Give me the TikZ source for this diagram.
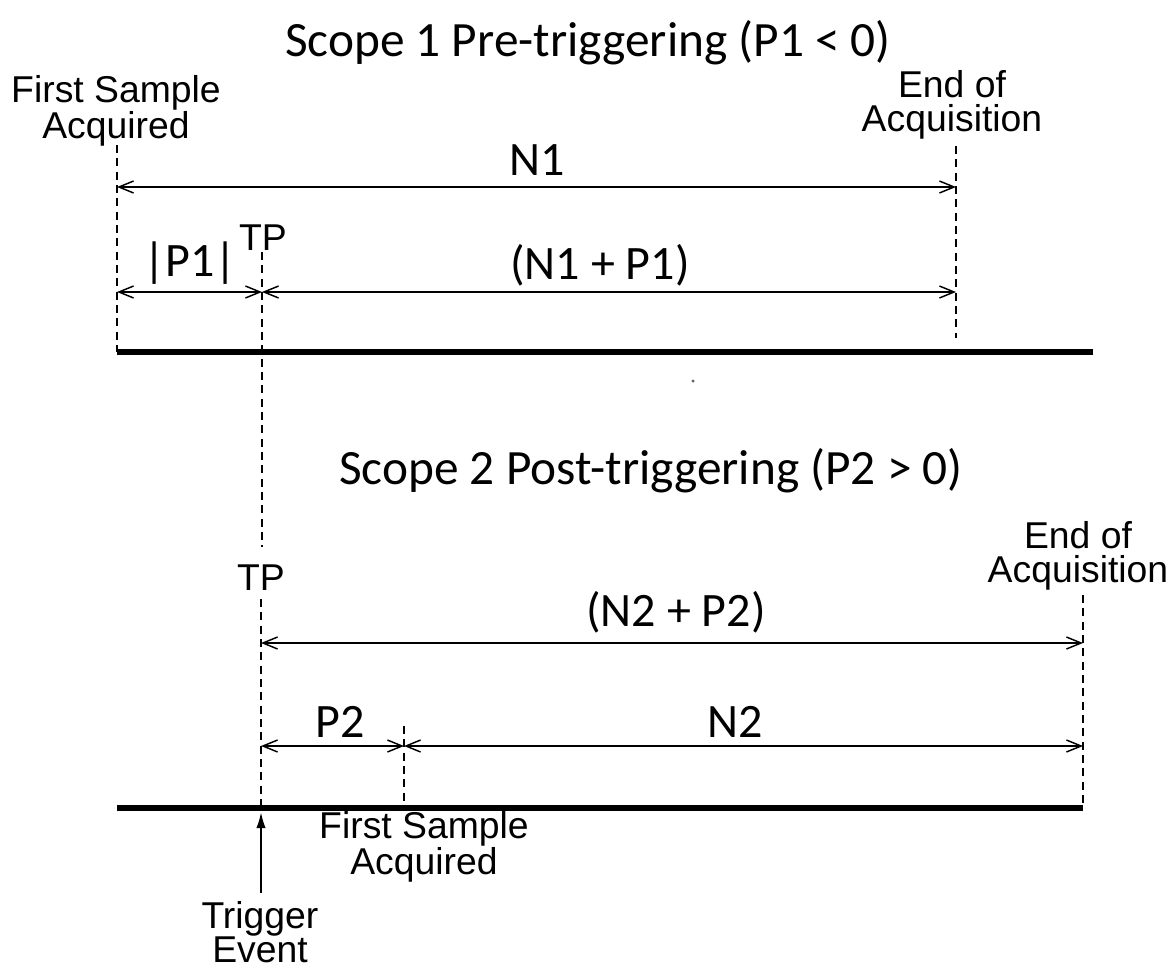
\documentclass[tikz,border=0pt]{standalone}
\usepackage{fontspec}
\setmainfont{Carlito}
\newfontfamily\arialfont{Liberation Sans}
\usetikzlibrary{arrows.meta}
\tikzset{
  ttl/.style={font=\fontsize{37}{44}\selectfont, inner sep=0pt},
  lbl/.style={font=\fontsize{36}{42}\selectfont, inner sep=0pt},
  anno/.style={font=\arialfont\fontsize{28}{26}\selectfont, align=center, inner sep=0pt},
  guide/.style={line width=1.4pt, dash pattern=on 6pt off 4pt},
  dimline/.style={line width=1.1pt, {Straight Barb[length=11pt,width=9pt]}-{Straight Barb[length=11pt,width=9pt]}},
  axisline/.style={line width=4.6pt, line cap=butt},
  trig/.style={line width=1.5pt, -{Latex[length=12pt,width=7pt]}}
}
\begin{document}
\begin{tikzpicture}[x=0.75pt,y=-0.75pt]
\useasboundingbox (0,0) rectangle (1173,978);

% ---------- Scope 1 ----------
\node[ttl] (t1) at (588,43) {Scope 1 Pre-triggering (P1 < 0)};
\node[anno] (fs1) at (116,111) {First Sample\\Acquired};
\node[anno] (ea1) at (952,105) {End of\\Acquisition};
\node[anno] (tp1) at (263,238) {TP};
\node[lbl] (n1) at (537,160) {N1};
\node[lbl] (p1) at (190,263) {|P1|};
\node[lbl] (n1p1) at (600,265) {(N1 + P1)};

\coordinate (fsTop) at (117,145);
\coordinate (fsBot) at (117,352);
\coordinate (eTop) at (956,146);
\coordinate (eBot) at (956,338);
\coordinate (tpTop) at (262,252);
\coordinate (tpMid) at (262,547);
\coordinate (ax1L) at (117,352);
\coordinate (ax1R) at (1093,352);

\draw[guide] (fsTop) -- (fsBot);
\draw[guide] (eTop) -- (eBot);
\draw[guide] (tpTop) -- (tpMid);

\draw[dimline] (117,187) coordinate (n1L) -- (956,187) coordinate (n1R);
\draw[dimline] (117,292) coordinate (p1L) -- (262,292) coordinate (p1R);
\draw[dimline] (262,292) coordinate (np1L) -- (956,292) coordinate (np1R);

\draw[axisline] (ax1L) -- (ax1R);

\fill[black!60] (693,381) circle (1.3pt);

% ---------- Scope 2 ----------
\node[ttl] (t2) at (651,471) {Scope 2 Post-triggering (P2 > 0)};
\node[anno] (tp2) at (261,578) {TP};
\node[anno] (ea2) at (1078,556) {End of\\Acquisition};
\node[lbl] (n2p2) at (676,612) {(N2 + P2)};
\node[lbl] (p2) at (340,722) {P2};
\node[lbl] (n2) at (735,722) {N2};
\node[anno] (fs2) at (424,847) {First Sample\\Acquired};
\node[anno] (te) at (260,932) {Trigger\\Event};

\coordinate (tp2Top) at (261,599);
\coordinate (tp2Bot) at (261,808);
\coordinate (e2Top) at (1083,595);
\coordinate (e2Bot) at (1083,808);
\coordinate (fs2Top) at (404,726);
\coordinate (fs2Bot) at (404,808);
\coordinate (ax2L) at (117,808);
\coordinate (ax2R) at (1083,808);

\draw[guide] (tp2Top) -- (tp2Bot);
\draw[guide] (e2Top) -- (e2Bot);
\draw[guide] (fs2Top) -- (fs2Bot);

\draw[dimline] (261,643) coordinate (np2L) -- (1083,643) coordinate (np2R);
\draw[dimline] (261,746) coordinate (p2L) -- (404,746) coordinate (p2R);
\draw[dimline] (404,746) coordinate (n2L) -- (1083,746) coordinate (n2R);

\draw[axisline] (ax2L) -- (ax2R);

\coordinate (trigTip) at (261,812);
\draw[trig] (te.north -| trigTip) ++(0,-8) coordinate (trigBase) -- (trigTip);
\end{tikzpicture}
\end{document}
